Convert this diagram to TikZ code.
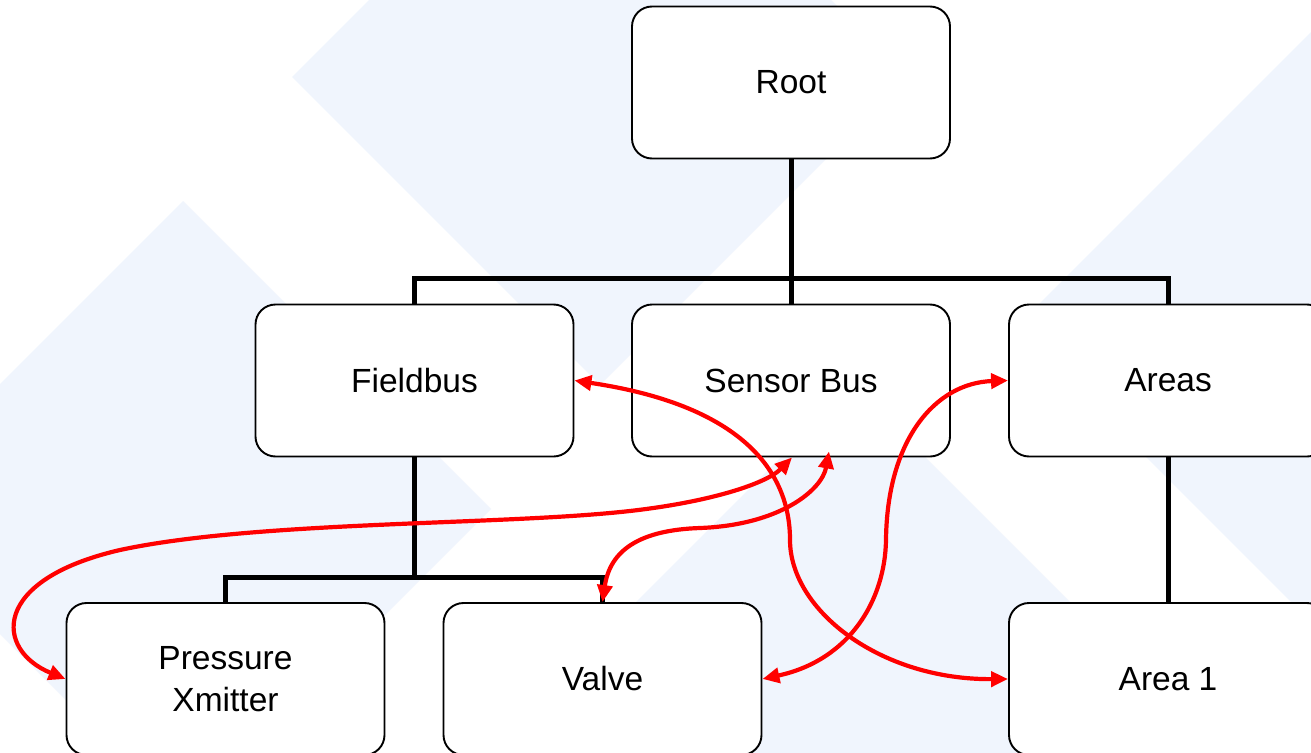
\documentclass[tikz,border=0pt]{standalone}
\usepackage{fontspec}
\setmainfont{Liberation Sans}
\usetikzlibrary{arrows.meta}
\definecolor{paleblue}{RGB}{240,245,253}
\definecolor{linkred}{RGB}{255,0,0}
\begin{document}
\begin{tikzpicture}[x=1pt, y=-1pt,
  box/.style={draw, line width=1.9pt, fill=white, rounded corners=20pt,
    minimum width=318pt, minimum height=152pt, inner sep=0pt, align=center,
    font=\fontsize{33.5}{42}\selectfont},
  tree/.style={line width=5pt, line join=miter},
  link/.style={draw=linkred, line width=4.2pt,
    {Triangle[length=17pt,width=15pt]}-{Triangle[length=17pt,width=15pt]}},
  bgshape/.style={fill=paleblue}]
\useasboundingbox (0,0) rectangle (1311,752);
\clip (0,0) rectangle (1311,752);
\fill[white] (0,0) rectangle (1311,752);

% pale diamond pattern in the background
\foreach \cx/\cy in {600/77, 183/509, 853/693, 1324/327}
  \fill[bgshape] (\cx,\cy-308) -- (\cx+308,\cy) -- (\cx,\cy+308) -- (\cx-308,\cy) -- cycle;

% hierarchy boxes
\node[box] (root)     at (791,82.5)   {Root};
\node[box] (fieldbus) at (414.5,380.5) {Fieldbus};
\node[box] (sensor)   at (791,380.5)  {Sensor Bus};
\node[box] (areas)    at (1168,380.5) {Areas};
\node[box] (pressure) at (225.5,679)  {Pressure\\Xmitter};
\node[box] (valve)    at (602.5,679)  {Valve};
\node[box] (area1)    at (1168,679)   {Area 1};

% tree connectors
\coordinate (j1) at (791,278);
\coordinate (j2) at (414.5,577);
\draw[tree] (root.south) -- (j1);
\draw[tree] (fieldbus.north) |- (j1) -| (areas.north);
\draw[tree] (j1) -- (sensor.north);
\draw[tree] (fieldbus.south) -- (j2);
\draw[tree] (pressure.north) |- (j2) -| (valve.north);
\draw[tree] (areas.south) -- (area1.north);

% cross links
\coordinate (sbA) at ([xshift=1pt]sensor.south);
\coordinate (sbB) at ([xshift=38pt,yshift=6pt]sensor.south);
\draw[link] (fieldbus.east) .. controls (740,405) and (790,470) .. (790,540)
  .. controls (790,610) and (880,680) .. (area1.west);
\draw[link] (pressure.west) .. controls (-5,650) and (-10,580) .. (120,550)
  .. controls (250,522) and (480,525) .. (610,513)
  .. controls (700,505) and (765,485) .. (sbA);
\draw[link] (valve.north) .. controls (610,550) and (640,530) .. (700,528)
  .. controls (780,525) and (822,490) .. (sbB);
\draw[link] (valve.east) .. controls (850,660) and (885,600) .. (886,540)
  .. controls (887,440) and (935,383) .. (areas.west);
\end{tikzpicture}
\end{document}
